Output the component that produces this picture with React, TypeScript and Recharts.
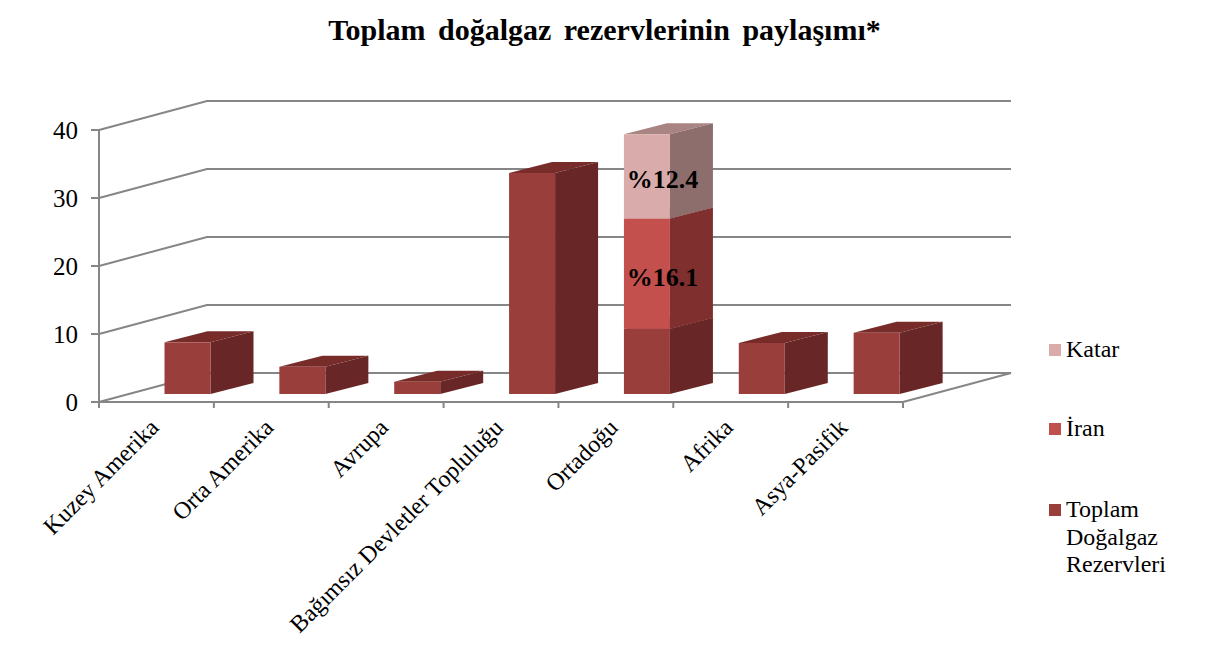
import React from "react";
import { BarChart, Bar, XAxis, YAxis, CartesianGrid, Legend, LabelList } from "recharts";

const categories = ["Kuzey Amerika", "Orta Amerika", "Avrupa", "Bağımsız Devletler Topluluğu", "Ortadoğu", "Afrika", "Asya-Pasifik"];
const toplam = [7.6, 4.0, 1.8, 32.5, 9.6, 7.5, 9.0];
const iran = [null, null, null, null, 16.2, null, null];
const katar = [null, null, null, null, 12.4, null, null];
const iranLabels = [null, null, null, null, "%16.1", null, null];
const katarLabels = [null, null, null, null, "%12.4", null, null];
const yTicks = [0, 10, 20, 30, 40];

const data = categories.map((name, i) => ({
  name, toplam: toplam[i], iran: iran[i], katar: katar[i], iranLabel: iranLabels[i], katarLabel: katarLabels[i],
}));

const FONT = "'Liberation Serif', 'Times New Roman', serif";
const AXIS = "#868686";
const W = 1211, H = 661;
const LEFT = 99, RIGHT = 308, TOP = 130, BOTTOM = 259;
const BAND = (W - LEFT - RIGHT) / categories.length;
// 3D projection: wall depth and the position of the bars inside the depth
const WALL_X = 108, WALL_Y = 29;
const BAR_DX = 31.5, BAR_DY = 8;
const DEPTH_X = 43, DEPTH_Y = 11;

const makeShape = (key: string, front: string, side: string, top: string) => (props: any) => {
  if (props.payload?.[key] == null) return null;
  const x = props.x + BAR_DX, y = props.y - BAR_DY, w = props.width, h = props.height;
  const r = x + w, b = y + h;
  return (
    <g>
      <polygon points={`${x},${y} ${r},${y} ${r + DEPTH_X},${y - DEPTH_Y} ${x + DEPTH_X},${y - DEPTH_Y}`} fill={top} />
      <polygon points={`${r},${y} ${r + DEPTH_X},${y - DEPTH_Y} ${r + DEPTH_X},${b - DEPTH_Y} ${r},${b}`} fill={side} />
      <rect x={x} y={y} width={w} height={h} fill={front} />
    </g>
  );
};

const gridLine = (props: any) => {
  const { x1, x2, y1 } = props;
  const isFloor = Math.abs(y1 - (H - BOTTOM)) < 1;
  const pts = `${x1},${y1} ${x1 + WALL_X},${y1 - WALL_Y} ${x2 + WALL_X},${y1 - WALL_Y}` + (isFloor ? ` ${x2},${y1}` : "");
  return <polyline key={props.key ?? y1} points={pts} fill="none" stroke={AXIS} strokeWidth={2} />;
};

const XTick = (props: any) => {
  const { x, y, payload, index } = props;
  const axisY = H - BOTTOM;
  const lx = x + 3.5, ly = y + 19;
  return (
    <g>
      <line x1={x - BAND / 2} x2={x - BAND / 2} y1={axisY} y2={axisY + 6} stroke={AXIS} strokeWidth={2} />
      {index === categories.length - 1 && (
        <line x1={x + BAND / 2} x2={x + BAND / 2} y1={axisY} y2={axisY + 6} stroke={AXIS} strokeWidth={2} />
      )}
      <text x={lx} y={ly} transform={`rotate(-45 ${lx} ${ly})`} textAnchor="end" fontFamily={FONT} fontSize={24} fill="#000">
        {payload.value}
      </text>
    </g>
  );
};

const SegmentLabel = (props: any) => {
  const { x, y, width, height, value } = props;
  if (value == null) return null;
  return (
    <text x={x + width / 2 + BAR_DX + 15.5} y={y + height / 2 - BAR_DY + 12} textAnchor="middle" fontFamily={FONT} fontWeight="bold" fontSize={26} fill="#000">
      {value}
    </text>
  );
};

const legendItems = [
  { label: ["Katar"], color: "#D9ACAB", top: 336 },
  { label: ["İran"], color: "#C0504D", top: 415 },
  { label: ["Toplam", "Doğalgaz", "Rezervleri"], color: "#9A3E3C", top: 496 },
];

const LegendContent = () => (
  <div style={{ position: "relative", width: 150, height: 250, fontFamily: FONT, fontSize: 24, lineHeight: "27.5px", color: "#000" }}>
    {legendItems.map((it) => (
      <div key={it.label[0]} style={{ position: "absolute", left: 0, top: it.top - 336 }}>
        <span style={{ position: "absolute", left: 0, top: 8, width: 12, height: 12, background: it.color }} />
        <div style={{ marginLeft: 17 }}>
          {it.label.map((l) => <div key={l}>{l}</div>)}
        </div>
      </div>
    ))}
  </div>
);

export default function App() {
  return (
    <div style={{ position: "absolute", left: 0, top: 0, width: W, height: H, background: "#fff" }}>
      <div style={{ position: "absolute", left: 0, width: W - 2, top: 13, textAlign: "center", fontFamily: FONT, fontWeight: "bold", fontSize: 30, wordSpacing: 5, color: "#000", zIndex: 2 }}>
        Toplam doğalgaz rezervlerinin paylaşımı*
      </div>
      <BarChart width={W} height={H} data={data} margin={{ left: 0, right: RIGHT, top: TOP, bottom: 0 }} barSize={46}>
        <CartesianGrid vertical={false} horizontal={gridLine} />
        <XAxis dataKey="name" height={BOTTOM} interval={0} tickLine={false} tick={<XTick />} axisLine={{ stroke: AXIS, strokeWidth: 2 }} />
        <YAxis width={LEFT} domain={[0, 40]} ticks={yTicks} tickSize={8} tickLine={{ stroke: AXIS, strokeWidth: 2 }} axisLine={{ stroke: AXIS, strokeWidth: 2 }}
          tick={{ fontFamily: FONT, fontSize: 25, fill: "#000" }} tickMargin={13} />
        <Legend layout="vertical" align="center" verticalAlign="middle" content={<LegendContent />} wrapperStyle={{ left: 1049, top: 336, width: 150, height: 250 }} />
        <Bar dataKey="toplam" stackId="a" name="Toplam Doğalgaz Rezervleri" fill="#9A3E3C" isAnimationActive={false} shape={makeShape("toplam", "#9A3E3C", "#682726", "#772C2A")} />
        <Bar dataKey="iran" stackId="a" name="İran" fill="#C0504D" isAnimationActive={false} shape={makeShape("iran", "#C4504D", "#7F2F2D", "#99403D")}>
          <LabelList dataKey="iranLabel" content={<SegmentLabel />} />
        </Bar>
        <Bar dataKey="katar" stackId="a" name="Katar" fill="#D9ACAB" isAnimationActive={false} shape={makeShape("katar", "#D9ACAB", "#8D6E6C", "#A88483")}>
          <LabelList dataKey="katarLabel" content={<SegmentLabel />} />
        </Bar>
      </BarChart>
    </div>
  );
}
